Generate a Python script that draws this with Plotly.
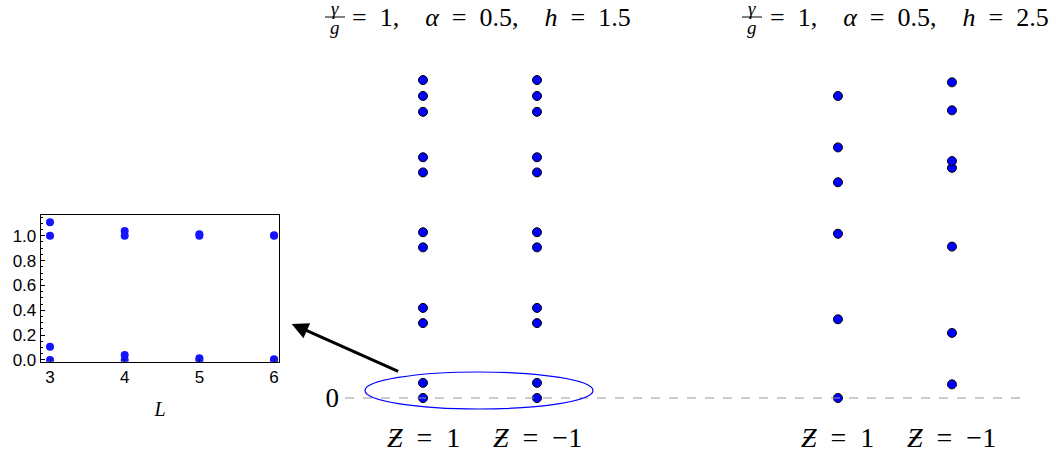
import plotly.graph_objects as go

W, H = 1054, 455
BLUE = "#0000ff"
SERIF = "Liberation Serif, Times New Roman, serif"
SANS = "Liberation Sans, Arial, sans-serif"

# main panel: energy levels per column (arbitrary units, 0 = ground)
z_labels = ["Ƶ = 1", "Ƶ = −1"]
h15_z_plus = [0.0, 0.20, 0.99, 1.19, 1.99, 2.19, 2.98, 3.18, 3.78, 3.99, 4.20]
h15_z_minus = [0.0, 0.20, 0.99, 1.19, 1.99, 2.19, 2.98, 3.18, 3.78, 3.99, 4.20]
h25_z_plus = [0.0, 1.04, 2.17, 2.85, 3.31, 3.99]
h25_z_minus = [0.18, 0.86, 2.0, 3.04, 3.13, 3.80, 4.17]
titles = ["1.5", "2.5"]  # h values

# inset: low-lying levels vs system size L
inset_L = [3, 3, 3, 3, 4, 4, 4, 4, 5, 5, 5, 5, 6, 6, 6, 6]
inset_E = [1.108, 1.0, 0.107, 0.0,
           1.038, 1.0, 0.04, 0.0,
           1.012, 1.0, 0.014, 0.0,
           1.004, 1.0, 0.005, 0.0]

col_x = [0, 1, 3.64, 4.64]
columns = [h15_z_plus, h15_z_minus, h25_z_plus, h25_z_minus]

fig = go.Figure()
for xpos, vals in zip(col_x, columns):
    fig.add_trace(go.Scatter(
        x=[xpos] * len(vals), y=vals, mode="markers",
        marker=dict(size=9, color=BLUE, line=dict(color="black", width=1)),
        showlegend=False, cliponaxis=False,
    ))

fig.add_trace(go.Scatter(
    x=inset_L, y=inset_E, mode="markers", xaxis="x2", yaxis="y2",
    marker=dict(size=8, color="#1414ff"), showlegend=False,
))

px_per_x = 114.0
px_per_y = 75.7
x_left_px = 345
fig.update_layout(
    width=W, height=H,
    margin=dict(l=0, r=0, t=0, b=0, autoexpand=False),
    plot_bgcolor="white", paper_bgcolor="white",
    xaxis=dict(domain=[x_left_px / W, 1],
               range=[(x_left_px - 423) / px_per_x, (W - 423) / px_per_x],
               visible=False, automargin=False),
    yaxis=dict(domain=[0, 1],
               range=[-(H - 398) / px_per_y, 398 / px_per_y],
               showgrid=False, zeroline=False, showline=False, automargin=False,
               tickvals=[0], ticktext=["0"], ticks="", ticklabelstandoff=5,
               tickfont=dict(family=SERIF, size=27, color="black")),
    xaxis2=dict(domain=[40.7 / W, 279.3 / W], range=[2.875, 6.07],
                anchor="y2", showgrid=False, zeroline=False, automargin=False,
                showline=True, mirror=True, linecolor="black", linewidth=1,
                tickvals=[3, 4, 5, 6], ticks="inside", ticklen=3,
                tickcolor="black",
                tickfont=dict(family=SANS, size=17, color="black"),
                title=dict(text="<i>L</i>", standoff=15,
                           font=dict(family=SERIF, size=20, color="black"))),
    yaxis2=dict(domain=[1 - 361.7 / H, 1 - 215 / H], range=[-0.014, 1.167],
                anchor="x2", showgrid=False, zeroline=False, automargin=False,
                showline=True, mirror=True, linecolor="black", linewidth=1,
                tickvals=[0, 0.2, 0.4, 0.6, 0.8, 1.0], tickformat=".1f",
                ticks="inside", ticklen=4, tickcolor="black",
                minor=dict(dtick=0.05, ticks="inside", ticklen=2, tickcolor="black"),
                tickfont=dict(family=SANS, size=17, color="black")),
)

# dashed zero line
fig.add_shape(type="line", xref="x", yref="y",
              x0=(x_left_px - 423) / px_per_x, x1=(1028 - 423) / px_per_x, y0=0, y1=0,
              line=dict(color="#999999", width=1.2, dash="dash"))
# ellipse around the two lowest levels
fig.add_shape(type="circle", xref="x", yref="y",
              x0=(365 - 423) / px_per_x, x1=(593 - 423) / px_per_x,
              y0=(398 - 409) / px_per_y, y1=(398 - 372) / px_per_y,
              line=dict(color=BLUE, width=1.2))
# arrow to inset
fig.add_annotation(xref="paper", yref="paper", x=291.7 / W, y=1 - 324 / H,
                   ax=108, ay=48, axref="pixel", ayref="pixel",
                   text="", showarrow=True, arrowhead=2, arrowsize=1.1,
                   arrowwidth=3, arrowcolor="black")

# column labels
EN = "\u2002"
for xpos, lab in zip(col_x, z_labels * 2):
    sym, rest = lab.split(" = ")
    fig.add_annotation(xref="x", yref="paper", x=xpos, y=1 - 437 / H,
                       xanchor="center", yanchor="middle",
                       text=f"<i>{sym}</i>{EN}={EN}{rest}",
                       showarrow=False,
                       font=dict(family=SERIF, size=28, color="black"))

# titles: gamma/g fraction + the rest
for frac_x, text_x, hval in [(335, 350, titles[0]), (752, 768, titles[1])]:
    fig.add_annotation(xref="paper", yref="paper", x=frac_x / W, y=1 - 8 / H,
                       xanchor="center", yanchor="middle", borderpad=0,
                       text="<i>γ</i>", showarrow=False,
                       font=dict(family=SERIF, size=19, color="black"))
    fig.add_annotation(xref="paper", yref="paper", x=frac_x / W, y=1 - 27 / H,
                       xanchor="center", yanchor="middle",
                       text="<i>g</i>", showarrow=False,
                       font=dict(family=SERIF, size=19, color="black"))
    fig.add_shape(type="line", xref="paper", yref="paper",
                  x0=(frac_x - 10) / W, x1=(frac_x + 10) / W,
                  y0=1 - 17 / H, y1=1 - 17 / H,
                  line=dict(color="black", width=1))
    txt = (f"={EN}1,{EN}{EN}<i>α</i>{EN}={EN}0.5,{EN}{EN}"
           f"<i>h</i>{EN}={EN}{hval}")
    fig.add_annotation(xref="paper", yref="paper", x=text_x / W, y=1 - 18 / H,
                       xanchor="left", yanchor="middle", text=txt, showarrow=False,
                       font=dict(family=SERIF, size=26, color="black"))

fig.write_html(
    "out.html",
    config={"displayModeBar": False},
    post_script=(
        "document.documentElement.style.overflow='hidden';"
        "document.body.style.margin='0';"
        "document.body.style.overflow='hidden';"
    ),
)
